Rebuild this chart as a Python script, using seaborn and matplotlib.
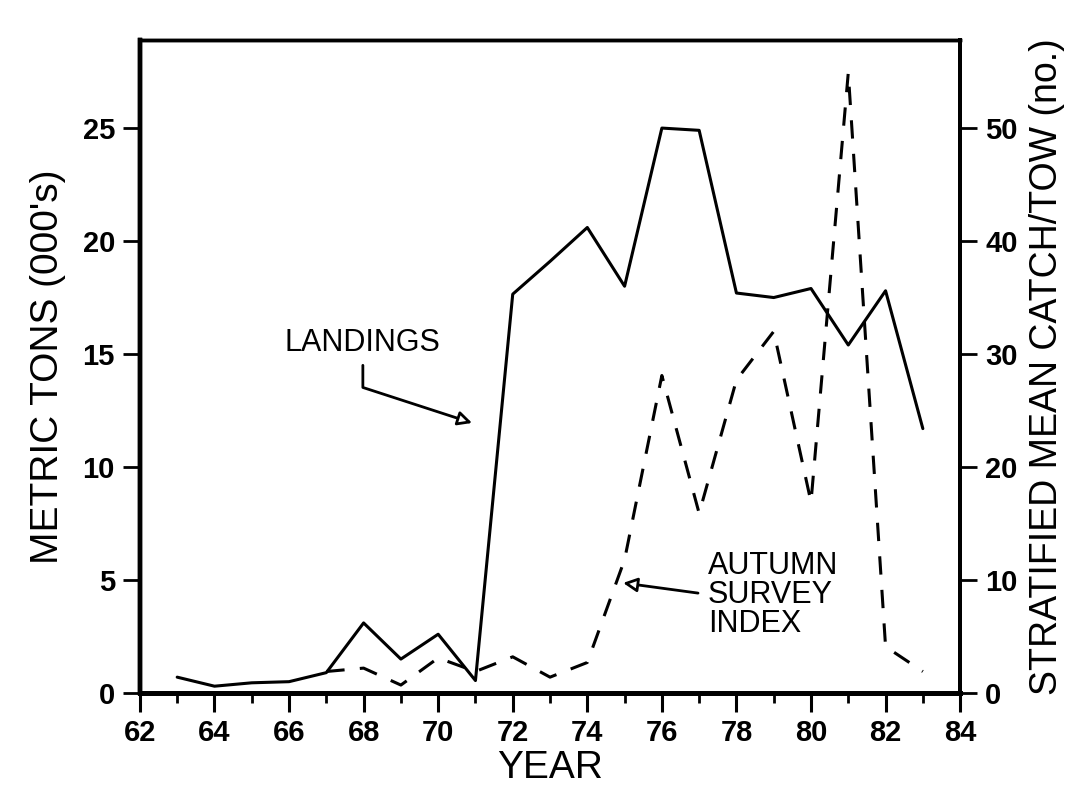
import matplotlib
matplotlib.use("Agg")
import matplotlib.pyplot as plt
import seaborn as sns
import pandas as pd
from matplotlib.ticker import MultipleLocator

# Landings (thousand metric tons) and autumn survey index (mean catch per tow)
land_years = [63, 64, 65, 66, 67, 68, 69, 70, 71, 72, 73, 74, 75, 76, 77, 78, 79, 80, 81, 82, 83]
landings = [0.7, 0.3, 0.45, 0.5, 0.9, 3.1, 1.5, 2.6, 0.55, 17.65, 19.1, 20.6, 18.0, 25.0, 24.9,
            17.7, 17.5, 17.9, 15.4, 17.8, 11.7]
survey_years = [67, 68, 69, 70, 71, 72, 73, 74, 75, 76, 77, 78, 79, 80, 81, 82, 83]
survey_index = [1.9, 2.2, 0.7, 3.1, 1.9, 3.2, 1.4, 2.7, 11.8, 28.1, 15.9, 27.7, 32.0, 16.9,
                54.9, 4.1, 1.9]
left_ticks = [0, 5, 10, 15, 20, 25]
right_ticks = [0, 10, 20, 30, 40, 50]
year_ticks = [62, 64, 66, 68, 70, 72, 74, 76, 78, 80, 82, 84]

sns.set_theme(style="ticks")
plt.rcParams["font.family"] = ["Liberation Sans", "DejaVu Sans"]
plt.rcParams["text.color"] = "black"
plt.rcParams["axes.labelcolor"] = "black"
plt.rcParams["xtick.color"] = "black"
plt.rcParams["ytick.color"] = "black"

land_df = pd.DataFrame({"year": land_years, "tons": landings})
surv_df = pd.DataFrame({"year": survey_years, "catch": survey_index})

fig = plt.figure(figsize=(10.68, 7.99), dpi=100)
ax = fig.add_axes([0.131, 0.1327, 0.768, 0.8173])
ax2 = ax.twinx()

sns.lineplot(data=land_df, x="year", y="tons", ax=ax, color="black", linewidth=2.2)
sns.lineplot(data=surv_df, x="year", y="catch", ax=ax2, color="black", linewidth=2.2)
ax2.lines[0].set_dashes([6, 5])

ax.set_xlim(62, 84)
ax.set_ylim(0, 28.9)
ax2.set_ylim(0, 57.8)

ax.set_xticks(year_ticks)
ax.set_xticklabels([str(y) for y in year_ticks])
ax.xaxis.set_minor_locator(MultipleLocator(1))
ax.set_yticks(left_ticks)
ax2.set_yticks(right_ticks)

for lab in ax.get_xticklabels() + ax.get_yticklabels() + ax2.get_yticklabels():
    lab.set_fontsize(21)
    lab.set_fontweight("bold")

ax.tick_params(axis="x", which="major", direction="out", length=14, width=2.2, pad=5)
ax.tick_params(axis="x", which="minor", direction="out", length=7, width=2.0)
ax.tick_params(axis="y", which="major", direction="out", length=12, width=2.0, pad=6)
ax2.tick_params(axis="y", which="major", direction="out", length=12, width=2.0, pad=6)

for a in (ax, ax2):
    for side in ("left", "right", "top", "bottom"):
        a.spines[side].set_visible(True)
        a.spines[side].set_color("black")
    a.spines["bottom"].set_linewidth(3.5)
    a.spines["left"].set_linewidth(3.2)
    a.spines["top"].set_linewidth(2.5)
    a.spines["right"].set_linewidth(2.8)

ax.set_xlabel("YEAR", fontsize=28, labelpad=2)
ax.set_ylabel("METRIC TONS (000's)", fontsize=28, labelpad=12)
ax2.set_ylabel("STRATIFIED MEAN CATCH/TOW (no.)", fontsize=27, labelpad=8)

arrow = dict(arrowstyle="-|>,head_length=0.7,head_width=0.35", fc="white", ec="black",
             lw=2.0, shrinkA=0, shrinkB=0)
ax.text(67.96, 15.5, "LANDINGS", fontsize=22, ha="center", va="center")
ax.annotate("", xy=(70.91, 11.95), xytext=(67.98, 14.5),
            arrowprops=dict(connectionstyle="angle,angleA=-90,angleB=-18,rad=0", **arrow))
ax.text(77.24, 4.34, "AUTUMN\nSURVEY\nINDEX", fontsize=22, ha="left", va="center",
        linespacing=0.95)
ax.annotate("", xy=(74.96, 4.87), xytext=(76.97, 4.42), arrowprops=arrow)

fig.savefig("out.png", dpi=100)
